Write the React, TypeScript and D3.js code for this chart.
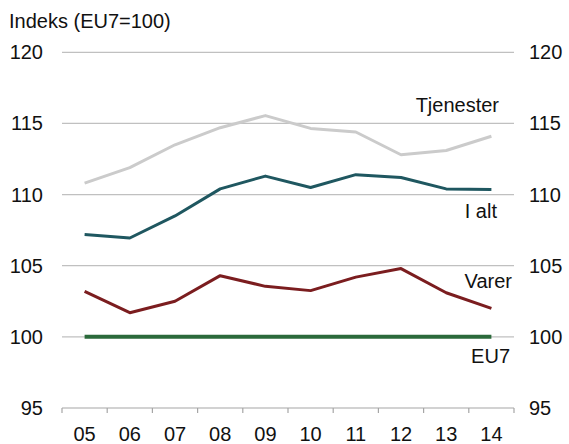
import * as d3 from "d3";
import { useEffect, useRef } from "react";

const years = ["05", "06", "07", "08", "09", "10", "11", "12", "13", "14"];
const tjenester = [110.8, 111.9, 113.5, 114.7, 115.55, 114.65, 114.4, 112.8, 113.1, 114.1];
const iAlt = [107.2, 106.95, 108.5, 110.4, 111.3, 110.5, 111.4, 111.2, 110.4, 110.35];
const varer = [103.2, 101.7, 102.5, 104.3, 103.55, 103.25, 104.2, 104.8, 103.1, 102.0];
const eu7 = [100, 100, 100, 100, 100, 100, 100, 100, 100, 100];
const yTicks = [95, 100, 105, 110, 115, 120];

const W = 569;
const H = 444;
const FONT = "'Liberation Sans', Arial, sans-serif";

const App = () => {
  const ref = useRef<SVGSVGElement>(null);

  useEffect(() => {
    const svg = d3.select(ref.current);
    svg.selectAll("*").remove();

    const x = d3.scaleBand().domain(years).range([62, 514]);
    const y = d3.scaleLinear().domain([95, 120]).range([408, 52.3]);

    // gridlines
    svg
      .append("g")
      .selectAll("line")
      .data(yTicks.filter((t) => t > 95))
      .enter()
      .append("line")
      .attr("x1", 62)
      .attr("x2", 514)
      .attr("y1", (d) => y(d))
      .attr("y2", (d) => y(d))
      .attr("stroke", "#c0c0c0")
      .attr("stroke-width", 1.2);

    // x axis
    const xAxis = svg.append("g").attr("transform", `translate(0,${y(95)})`);
    xAxis
      .append("line")
      .attr("x1", 62)
      .attr("x2", 514)
      .attr("stroke", "#a6a6a6")
      .attr("stroke-width", 1.2);
    const edges = years.map((d) => x(d)!).concat([514]);
    xAxis
      .selectAll("line.tick")
      .data(edges)
      .enter()
      .append("line")
      .attr("class", "tick")
      .attr("x1", (d) => d)
      .attr("x2", (d) => d)
      .attr("y1", 0)
      .attr("y2", 5)
      .attr("stroke", "#a6a6a6")
      .attr("stroke-width", 1.2);
    xAxis
      .selectAll("text")
      .data(years)
      .enter()
      .append("text")
      .attr("x", (d) => x(d)! + x.bandwidth() / 2)
      .attr("y", 33)
      .attr("text-anchor", "middle")
      .attr("font-family", FONT)
      .attr("font-size", 20)
      .attr("fill", "#111")
      .text((d) => d);

    // y labels left and right
    const yl = svg.append("g");
    yl.selectAll("text.l")
      .data(yTicks)
      .enter()
      .append("text")
      .attr("class", "l")
      .attr("x", 43)
      .attr("y", (d) => y(d) + 7)
      .attr("text-anchor", "end")
      .attr("font-family", FONT)
      .attr("font-size", 20)
      .attr("fill", "#111")
      .text((d) => d);
    yl.selectAll("text.r")
      .data(yTicks)
      .enter()
      .append("text")
      .attr("class", "r")
      .attr("x", 529)
      .attr("y", (d) => y(d) + 7)
      .attr("font-family", FONT)
      .attr("font-size", 20)
      .attr("fill", "#111")
      .text((d) => d);

    svg
      .append("text")
      .attr("x", 9)
      .attr("y", 28)
      .attr("font-family", FONT)
      .attr("font-size", 20)
      .attr("fill", "#111")
      .text("Indeks (EU7=100)");

    const line = d3
      .line<number>()
      .x((_, i) => x(years[i])! + x.bandwidth() / 2)
      .y((d) => y(d));

    const series = [
      { data: eu7, color: "#2b6a3b", width: 4 },
      { data: tjenester, color: "#cbcbcb", width: 3 },
      { data: iAlt, color: "#1f5760", width: 3 },
      { data: varer, color: "#7b1d1f", width: 3 },
    ];
    series.forEach((s) => {
      svg
        .append("path")
        .datum(s.data)
        .attr("d", line)
        .attr("fill", "none")
        .attr("stroke", s.color)
        .attr("stroke-width", s.width)
        .attr("stroke-linejoin", "round");
    });

    const labels = [
      { text: "Tjenester", x: 499, y: 112 },
      { text: "I alt", x: 497, y: 218 },
      { text: "Varer", x: 512, y: 288 },
      { text: "EU7", x: 510, y: 363 },
    ];
    svg
      .append("g")
      .selectAll("text")
      .data(labels)
      .enter()
      .append("text")
      .attr("x", (d) => d.x)
      .attr("y", (d) => d.y)
      .attr("text-anchor", "end")
      .attr("font-family", FONT)
      .attr("font-size", 20)
      .attr("fill", "#111")
      .text((d) => d.text);
  }, []);

  return (
    <svg
      ref={ref}
      width={W}
      height={H}
      style={{ position: "absolute", left: 0, top: 0, background: "white" }}
    />
  );
};

export default App;
